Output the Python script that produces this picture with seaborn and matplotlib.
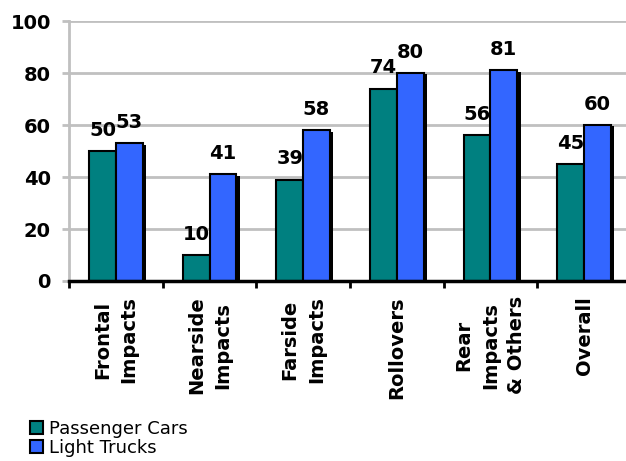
import matplotlib
matplotlib.use("Agg")
import matplotlib.pyplot as plt
import matplotlib.patheffects as pe
import seaborn as sns
import pandas as pd

categories = ["Frontal\nImpacts", "Nearside\nImpacts", "Farside\nImpacts",
              "Rollovers", "Rear\nImpacts\n& Others", "Overall"]
passenger_cars = [50, 10, 39, 74, 56, 45]
light_trucks = [53, 41, 58, 80, 81, 60]
series_names = ["Passenger Cars", "Light Trucks"]
yticks = [0, 20, 40, 60, 80, 100]

df = pd.DataFrame({
    "category": categories * 2,
    "value": passenger_cars + light_trucks,
    "series": [series_names[0]] * len(categories) + [series_names[1]] * len(categories),
})

sns.set_style("white")
plt.rcParams["font.family"] = ["DejaVu Sans"]
plt.rcParams["text.color"] = "black"
plt.rcParams["xtick.color"] = "black"
plt.rcParams["ytick.color"] = "black"
plt.rcParams["xtick.labelcolor"] = "black"
plt.rcParams["ytick.labelcolor"] = "black"

fig = plt.figure(figsize=(6.26, 4.61), dpi=100)
ax = fig.add_axes([69 / 626, (461 - 281) / 461, (631 - 69) / 626, 260 / 461])

sns.barplot(data=df, x="category", y="value", hue="series", order=categories,
            hue_order=series_names, palette=["#008080", "#3366FF"],
            width=0.57, edgecolor="black", linewidth=1.5, saturation=1,
            ax=ax, zorder=3)

for c in ax.containers:
    for p in c:
        p.set_path_effects([pe.SimplePatchShadow(offset=(2.5, -1), shadow_rgbFace="black", alpha=1),
                            pe.Normal()])
    ax.bar_label(c, padding=8, fontsize=14, fontweight="heavy", color="black")

ax.set_ylim(0, 100)
ax.set_xlim(-0.5, 5.5)
ax.set_yticks(yticks)
ax.set_yticklabels([str(v) for v in yticks], fontsize=14, fontweight="heavy", color="black")
ax.grid(axis="y", color="#C0C0C0", linewidth=2, zorder=0)
ax.set_axisbelow(True)

ax.set_xticks(range(len(categories)))
ax.set_xticklabels(categories, rotation=90, fontsize=14, fontweight="heavy", color="black",
                   multialignment="center", linespacing=1.5)
ax.set_xticks([i - 0.5 for i in range(len(categories) + 1)], minor=True)
ax.tick_params(axis="x", which="major", length=0, pad=11)
ax.tick_params(axis="x", which="minor", length=5, width=2, color="black", direction="out", bottom=True)
ax.tick_params(axis="y", length=5, width=2, color="#C0C0C0", direction="out", pad=8, left=True)

ax.set_xlabel("")
ax.set_ylabel("")
for s in ["top", "right"]:
    ax.spines[s].set_visible(False)
ax.spines["left"].set_color("#C0C0C0")
ax.spines["left"].set_linewidth(2)
ax.spines["bottom"].set_color("black")
ax.spines["bottom"].set_linewidth(2.5)
ax.spines["bottom"].set_zorder(5)

handles, labels = ax.get_legend_handles_labels()
ax.get_legend().remove()
for h in handles:
    h.set_path_effects([])
fig.legend(handles, labels, loc="lower left", bbox_to_anchor=(0.03, -0.015),
           frameon=False, fontsize=13, handlelength=0.75, handleheight=0.75,
           handletextpad=0.3, labelspacing=0.05, borderaxespad=0.2,
           labelcolor="black")

fig.savefig("out.png", dpi=100)
